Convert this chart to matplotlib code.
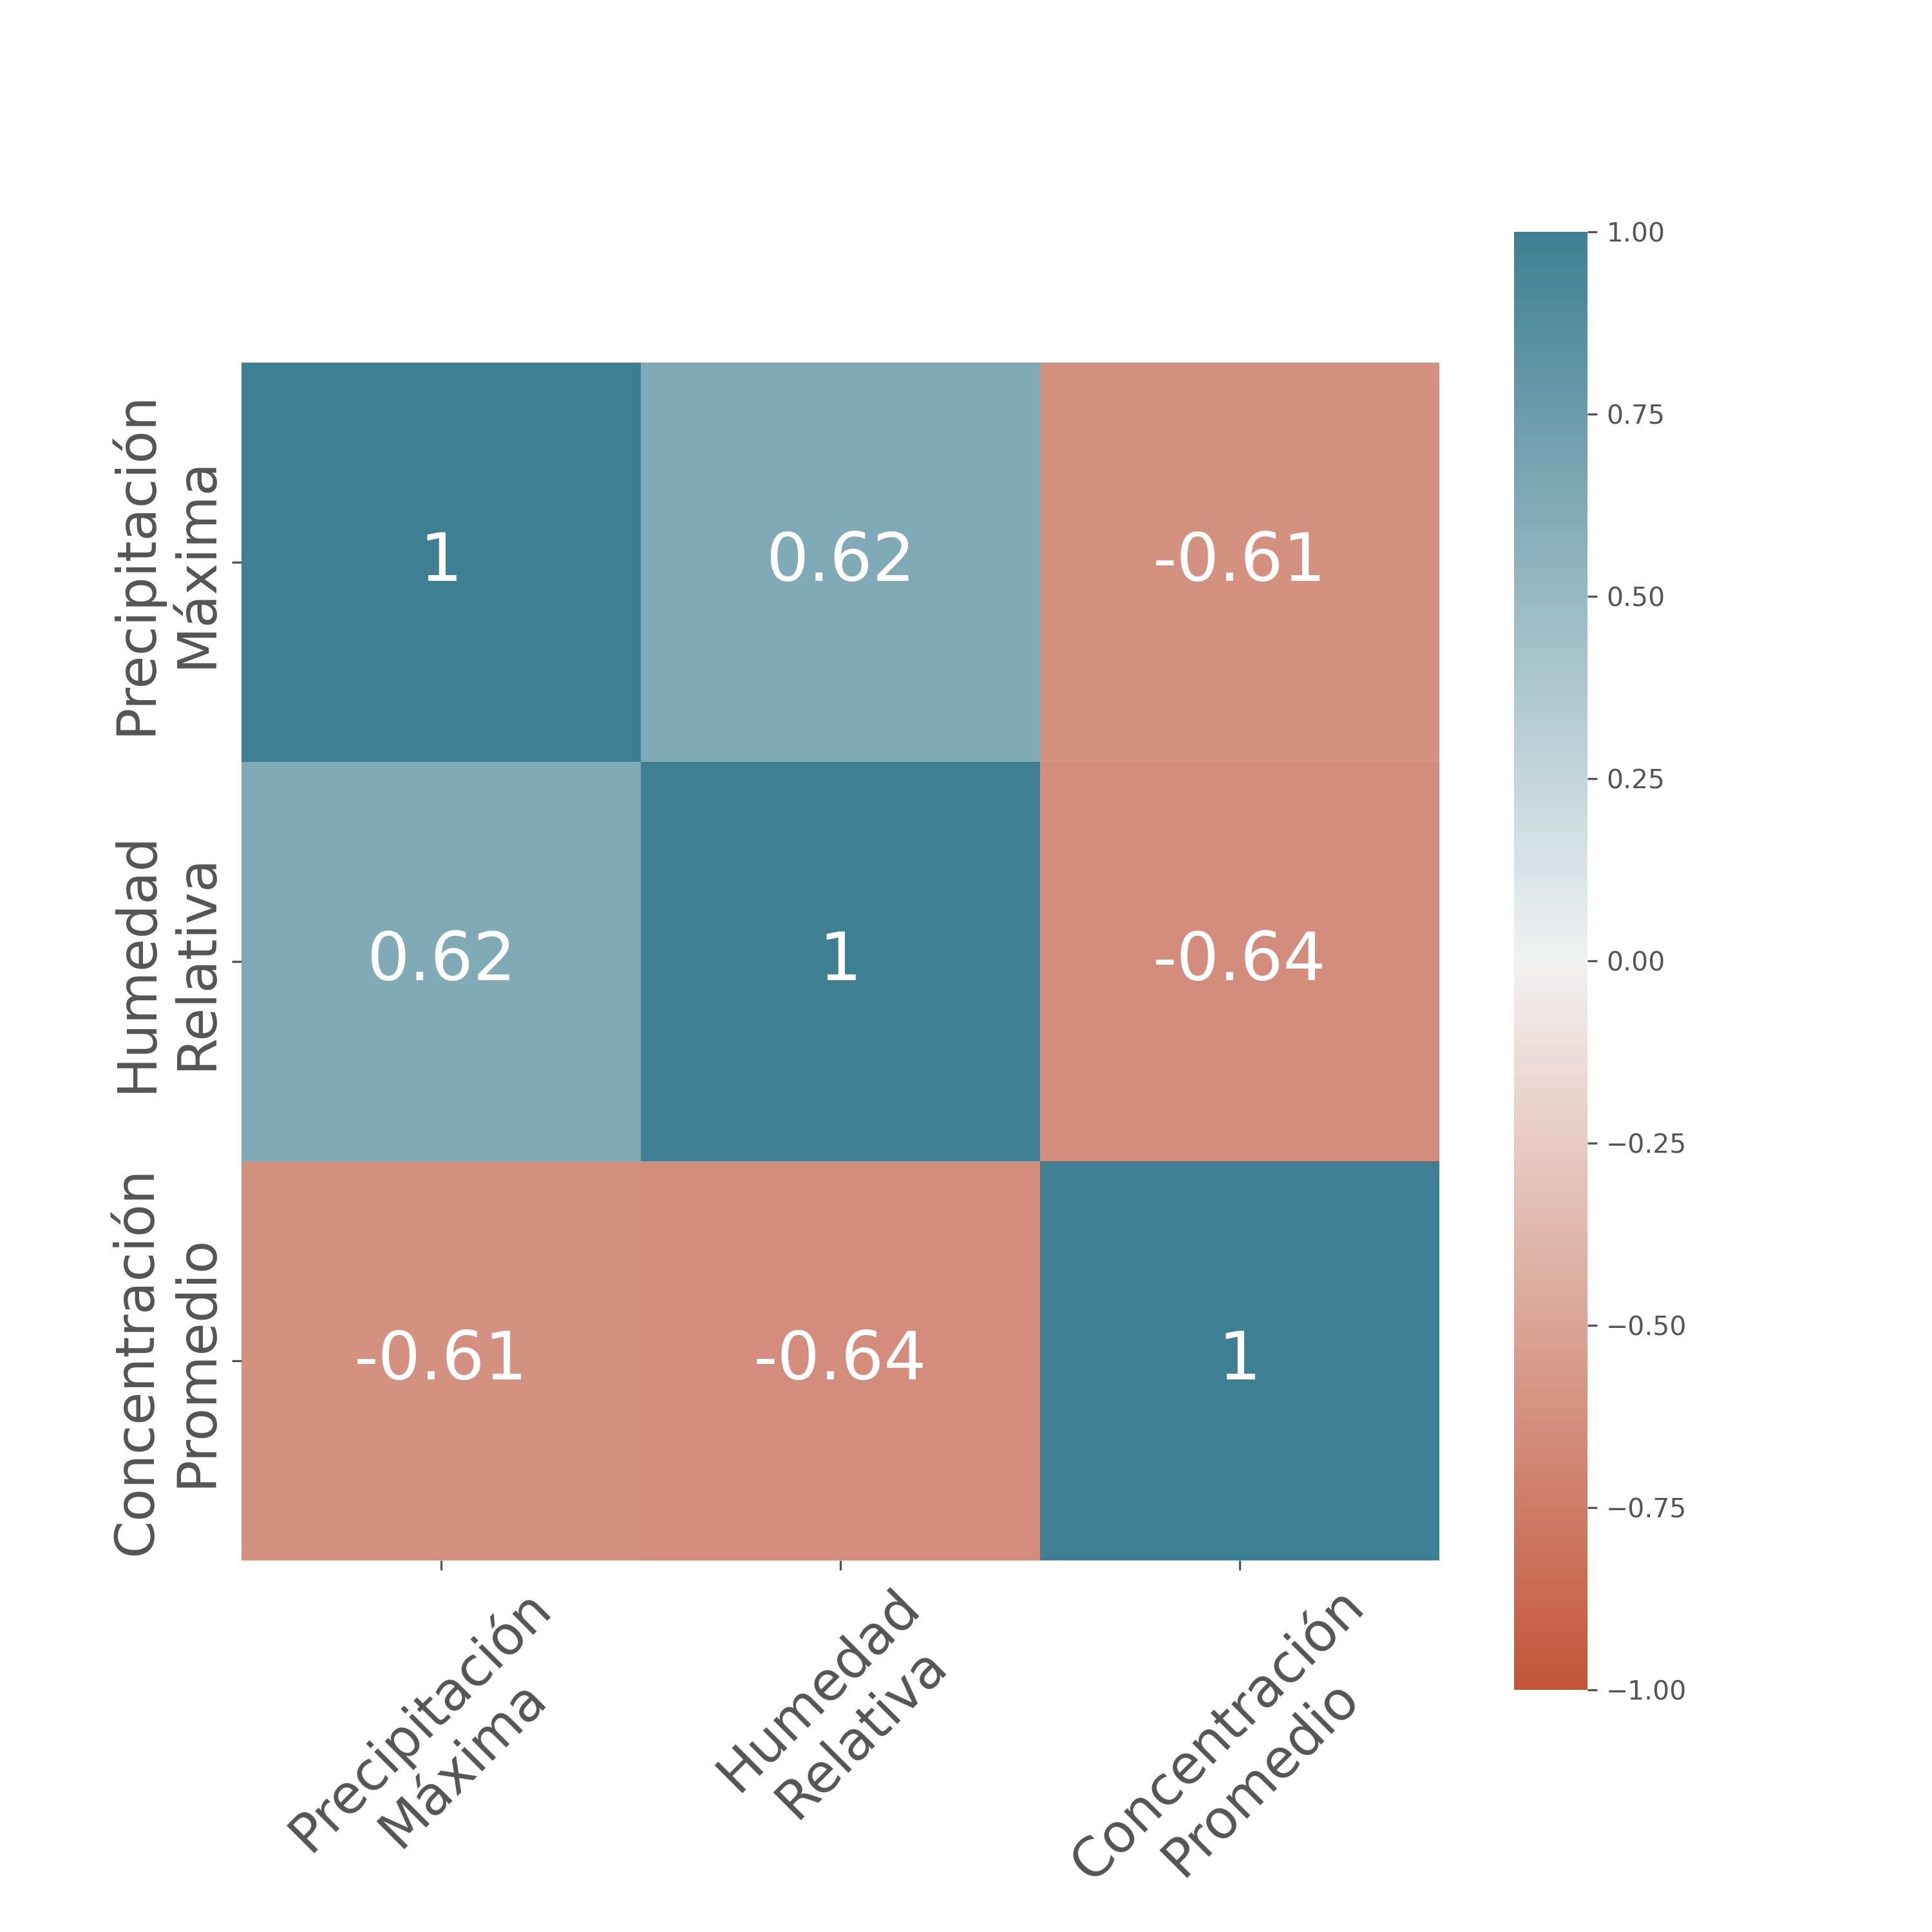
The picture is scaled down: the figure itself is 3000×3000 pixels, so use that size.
import numpy as np
import pandas as pd
import seaborn as sns
import matplotlib.pyplot as plt

labels = ['Precipitación\nMáxima', 'Humedad\nRelativa', 'Concentración\nPromedio']
precipitacion = [1.00, 0.62, -0.61]
humedad = [0.62, 1.00, -0.64]
concentracion = [-0.61, -0.64, 1.00]
cbar_ticks = [-1.00, -0.75, -0.50, -0.25, 0.00, 0.25, 0.50, 0.75, 1.00]

gray = '#555555'
plt.rcParams['text.color'] = gray
plt.rcParams['xtick.color'] = gray
plt.rcParams['ytick.color'] = gray

corr = pd.DataFrame([precipitacion, humedad, concentracion], index=labels, columns=labels)

fig = plt.figure(figsize=(10, 10), dpi=300)
ax = fig.add_axes([0.125, 0.1923, 0.62, 0.62])
cax = fig.add_axes([0.78367, 0.12533, 0.038, 0.75467])

cmap = sns.diverging_palette(20, 220, as_cmap=True)
sns.heatmap(corr, cmap=cmap, vmin=-1, vmax=1, center=0, annot=True,
            annot_kws={'size': 25, 'color': 'white'}, square=True,
            ax=ax, cbar_ax=cax)

ax.set_xticklabels(labels, rotation=45, fontsize=20, color=gray,
                   multialignment='center')
ax.set_yticklabels(labels, rotation=90, va='center', fontsize=20, color=gray,
                   multialignment='center')
ax.tick_params(color=gray, length=3.5, width=0.8)

cax.set_yticks(cbar_ticks)
cax.set_yticklabels([f'{t:.2f}'.replace('-', '\u2212') for t in cbar_ticks])
cax.tick_params(labelsize=9.8, color=gray, labelcolor=gray, length=3.5, width=0.8)

fig.savefig('out.png', dpi=300)
